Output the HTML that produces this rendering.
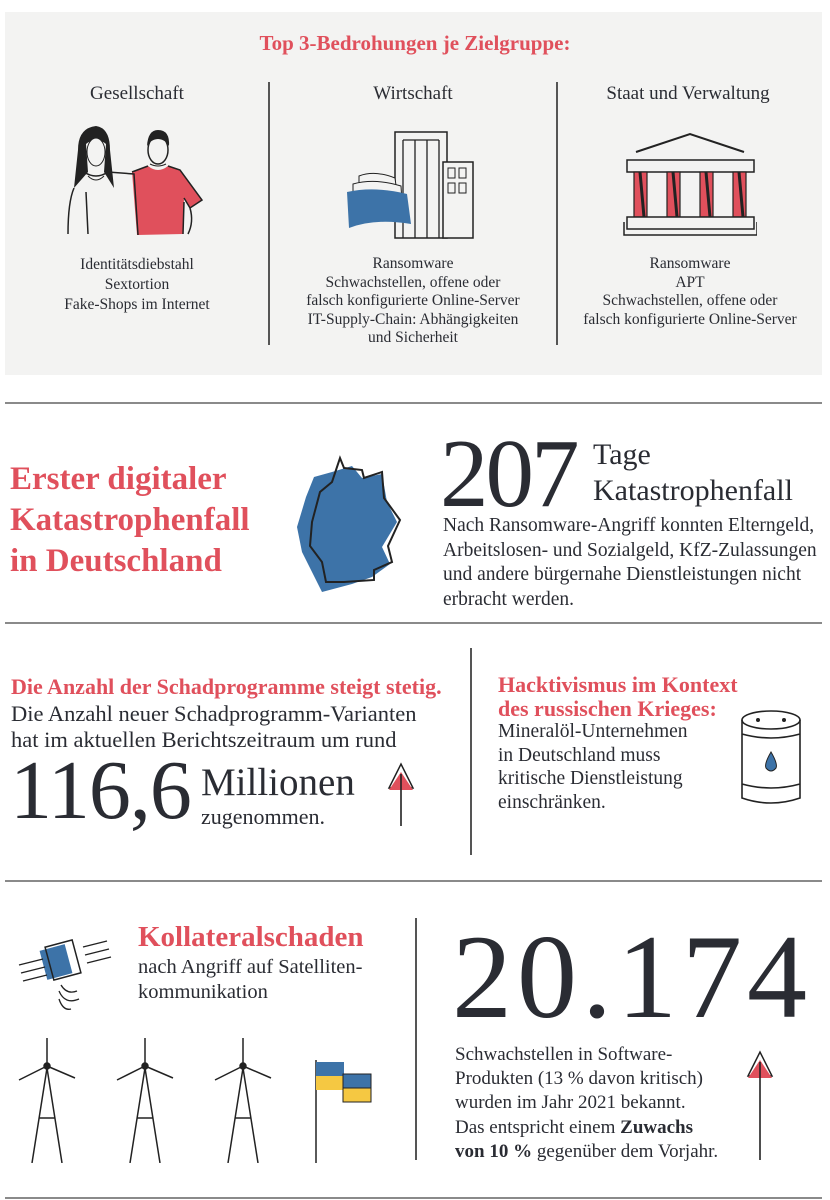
<!DOCTYPE html>
<html><head><meta charset="utf-8">
<style>
*{margin:0;padding:0;box-sizing:border-box}
body{width:830px;height:1200px;background:#fff;position:relative;overflow:hidden;font-family:"Liberation Serif",serif;color:#2a2c33}
.a{position:absolute;white-space:nowrap}
.red{color:#e0505c}
.hr{position:absolute;left:5px;width:817px;height:2px;background:#8a8a8a}
.vr{position:absolute;width:1.5px;background:#555}
.c{text-align:center}
</style></head><body>
<div style="position:absolute;left:5px;top:12px;width:817px;height:363px;background:#f3f3f2"></div>
<div class="a red c" style="left:0;width:830px;top:31px;font-size:21px;font-weight:bold">Top 3-Bedrohungen je Zielgruppe:</div>
<div class="vr" style="left:268px;top:82px;height:263px"></div>
<div class="vr" style="left:556px;top:82px;height:263px"></div>

<div class="a c" style="left:37px;width:200px;top:83px;font-size:19px">Gesellschaft</div>
<div class="a c" style="left:313px;width:200px;top:83px;font-size:19px">Wirtschaft</div>
<div class="a c" style="left:588px;width:200px;top:83px;font-size:19px">Staat und Verwaltung</div>

<svg class="a" style="left:62px;top:122px" width="150" height="115" viewBox="0 0 150 115">
<path d="M70 50 L86 44 Q96 52 106 44 L118 48 L140 78 L128 86 L122 76 L121 112 L75 113 Z" fill="#e0505c"/>
<path d="M70 50 L86 44 M106 44 L118 48 L140 78 L128 86 L122 76 M121 112 L122 80 M128 86 Q132 100 126 112" fill="none" stroke="#222" stroke-width="1.5"/>
<ellipse cx="96" cy="28" rx="10" ry="14" fill="#f3f3f2" stroke="#222" stroke-width="1.5"/>
<path d="M85 24 Q86 8 96 8 Q108 8 107 24 L104 20 Q96 14 88 20 Z" fill="#222"/>
<path d="M88 42 Q96 46 104 42" stroke="#222" fill="none"/>
<path d="M34 4 Q16 6 16 28 L12 66 L26 50 L24 22 Q34 14 44 22 L42 50 L52 66 L48 28 Q48 6 34 4 Z" fill="#222"/>
<ellipse cx="34" cy="30" rx="9" ry="14" fill="#f3f3f2" stroke="#222"/>
<path d="M22 50 Q34 58 46 50 L72 52 L76 113 M12 66 Q6 80 6 112 M26 112 L24 70" fill="none" stroke="#222" stroke-width="1.5"/>
<path d="M26 54 Q34 62 42 54" stroke="#222" fill="none"/>
</svg>

<svg class="a" style="left:345px;top:128px" width="135" height="112" viewBox="0 0 135 112">
<rect x="50" y="4" width="52" height="106" fill="#f3f3f2" stroke="#222" stroke-width="1.5"/>
<path d="M58 12 V110 M70 12 V110 M82 12 V110 M94 12 V110 M58 12 H94" stroke="#222" stroke-width="1.3" fill="none"/>
<rect x="98" y="34" width="30" height="76" fill="#f3f3f2" stroke="#222" stroke-width="1.5"/>
<rect x="103" y="40" width="7" height="10" fill="none" stroke="#222"/><rect x="114" y="40" width="7" height="10" fill="none" stroke="#222"/>
<rect x="103" y="55" width="7" height="10" fill="none" stroke="#222"/><rect x="114" y="55" width="7" height="10" fill="none" stroke="#222"/>
<path d="M14 48 Q30 42 50 50 L54 80 Q30 76 14 82 Z" fill="#f3f3f2" stroke="#222"/>
<path d="M8 56 Q30 50 56 58 L58 90 Q30 84 8 92 Z" fill="#f3f3f2" stroke="#222"/>
<path d="M2 64 Q30 58 62 66 L66 96 Q30 90 4 100 Z" fill="#3d73a8"/>
</svg>

<svg class="a" style="left:622px;top:130px" width="135" height="110" viewBox="0 0 135 110">
<path d="M14 22 L68 4 L122 22" stroke="#222" stroke-width="2" fill="none"/>
<rect x="5" y="30" width="127" height="12" fill="#f3f3f2" stroke="#222" stroke-width="1.5"/>
<g fill="#e0505c" stroke="#222" stroke-width="1.2">
<rect x="12" y="42" width="13" height="45"/><rect x="45" y="42" width="13" height="45"/><rect x="78" y="42" width="13" height="45"/><rect x="111" y="42" width="13" height="45"/></g>
<path d="M18 42 L22 87 M51 42 L55 87 M84 42 L88 87 M117 42 L121 87" stroke="#222" stroke-width="3"/>
<rect x="5" y="87" width="127" height="12" fill="#f3f3f2" stroke="#222" stroke-width="1.5"/>
<path d="M2 92 V105 H135 V92" stroke="#222" stroke-width="1.5" fill="none"/>
</svg>

<div class="a c" style="left:17px;width:240px;top:255px;font-size:15.5px;line-height:20px">Identitätsdiebstahl<br>Sextortion<br>Fake-Shops im Internet</div>
<div class="a c" style="left:263px;width:300px;top:255px;font-size:15.5px;line-height:18.5px">Ransomware<br>Schwachstellen, offene oder<br>falsch konfigurierte Online-Server<br>IT-Supply-Chain: Abhängigkeiten<br>und Sicherheit</div>
<div class="a c" style="left:540px;width:300px;top:255px;font-size:15.5px;line-height:18.5px">Ransomware<br>APT<br>Schwachstellen, offene oder<br>falsch konfigurierte Online-Server</div>

<div class="hr" style="top:402px"></div>

<div class="a red" style="left:10px;top:459px;font-size:33px;font-weight:bold;line-height:41px">Erster digitaler<br>Katastrophenfall<br>in Deutschland</div>
<svg class="a" style="left:292px;top:452px" width="115" height="142" viewBox="0 0 115 142">
<path d="M40 20 L60 14 L70 26 L90 22 L95 50 L105 70 L90 95 L98 112 L80 125 L60 132 L30 140 L20 120 L10 100 L5 75 L14 45 L22 25 Z" fill="#3d73a8"/>
<path d="M48 6 L52 16 L70 18 L72 26 L90 20 L92 46 L108 68 L96 94 L100 110 L82 118 L82 128 L52 130 L34 130 L30 110 L18 94 L20 70 L28 40 L40 30 Z" fill="none" stroke="#222" stroke-width="2"/>
</svg>
<div class="a" style="left:440px;top:420px;font-size:97px;line-height:108px;letter-spacing:-3px">207</div>
<div class="a" style="left:593px;top:437px;font-size:30px;line-height:36px">Tage<br>Katastrophenfall</div>
<div class="a" style="left:443px;top:514px;font-size:19.5px;line-height:24.5px">Nach Ransomware-Angriff konnten Elterngeld,<br>Arbeitslosen- und Sozialgeld, KfZ-Zulassungen<br>und andere bürgernahe Dienstleistungen nicht<br>erbracht werden.</div>

<div class="hr" style="top:622px"></div>
<div class="vr" style="left:470px;top:648px;height:207px"></div>

<div class="a red" style="left:11px;top:674px;font-size:22px;font-weight:bold">Die Anzahl der Schadprogramme steigt stetig.</div>
<div class="a" style="left:11px;top:701px;font-size:22.5px;line-height:26px">Die Anzahl neuer Schadprogramm-Varianten<br>hat im aktuellen Berichtszeitraum um rund</div>
<div class="a" style="left:10px;top:744px;font-size:84px;line-height:94px;letter-spacing:-1px">116,6</div>
<div class="a" style="left:201px;top:760px;font-size:39px">Millionen</div>
<div class="a" style="left:201px;top:804px;font-size:22px">zugenommen.</div>
<svg class="a" style="left:385px;top:760px" width="32" height="66" viewBox="0 0 32 66">
<path d="M4 28 L16 4 L28 28 Z" fill="none" stroke="#222" stroke-width="1.5"/><path d="M4 30 L16 12 L28 30 Z" fill="#e0505c"/>
<path d="M16 14 V66" stroke="#222" stroke-width="1.6"/></svg>

<div class="a red" style="left:498px;top:673px;font-size:22px;font-weight:bold;line-height:24px">Hacktivismus im Kontext<br>des russischen Krieges:</div>
<div class="a" style="left:498px;top:720px;font-size:19.5px;line-height:23.5px">Mineralöl-Unternehmen<br>in Deutschland muss<br>kritische Dienstleistung<br>einschränken.</div>
<svg class="a" style="left:738px;top:708px" width="66" height="100" viewBox="0 0 66 100">
<ellipse cx="33" cy="12" rx="29" ry="9" fill="none" stroke="#222" stroke-width="1.6"/>
<circle cx="20" cy="12" r="2" fill="#222"/><circle cx="46" cy="12" r="2" fill="#222"/>
<path d="M4 12 V90 Q33 100 62 90 V12 M4 26 Q33 34 62 26 M4 76 Q33 84 62 76" fill="none" stroke="#222" stroke-width="1.6"/>
<path d="M33 44 Q26 56 28 60 Q33 66 38 60 Q40 56 33 44 Z" fill="#3d73a8" stroke="#222"/></svg>

<div class="hr" style="top:880px"></div>
<div class="vr" style="left:415px;top:918px;height:242px"></div>

<svg class="a" style="left:15px;top:935px" width="100" height="80" viewBox="0 0 100 80">
<rect x="28" y="12" width="26" height="30" fill="#3d73a8" transform="rotate(-15 41 27)"/>
<rect x="34" y="8" width="28" height="34" fill="none" stroke="#222" stroke-width="1.5" transform="rotate(-15 48 25)"/>
<path d="M68 12 L92 6 M70 20 L94 14 M72 28 L96 22 M4 30 L28 24 M6 38 L30 32 M8 46 L32 40" stroke="#222" stroke-width="1.4"/>
<path d="M46 50 Q52 60 62 56 M44 56 Q50 70 64 64 M44 64 Q48 76 56 74" stroke="#222" fill="none" stroke-width="1.3"/></svg>
<div class="a red" style="left:138px;top:921px;font-size:29px;font-weight:bold">Kollateralschaden</div>
<div class="a" style="left:138px;top:955px;font-size:20.5px;line-height:25px">nach Angriff auf Satelliten-<br>kommunikation</div>

<svg class="a" style="left:15px;top:1038px" width="360" height="125" viewBox="0 0 360 125">
<g stroke="#222" stroke-width="1.5" fill="none">
<g transform="translate(32 0)"><path d="M0 0 V28 M0 28 L-28 42 M0 28 L28 40 M-15 125 L0 30 L15 125 M-8 80 H8"/><circle cx="0" cy="28" r="3" fill="#222"/></g>
<g transform="translate(130 0)"><path d="M0 0 V28 M0 28 L-28 42 M0 28 L28 40 M-15 125 L0 30 L15 125 M-8 80 H8"/><circle cx="0" cy="28" r="3" fill="#222"/></g>
<g transform="translate(228 0)"><path d="M0 0 V28 M0 28 L-28 42 M0 28 L28 40 M-15 125 L0 30 L15 125 M-8 80 H8"/><circle cx="0" cy="28" r="3" fill="#222"/></g>
<path d="M301 22 V125"/></g>
<rect x="301" y="24" width="28" height="14" fill="#3d73a8"/><rect x="301" y="38" width="28" height="14" fill="#f5c842"/>
<rect x="328" y="36" width="28" height="14" fill="#3d73a8" stroke="#222"/><rect x="328" y="50" width="28" height="14" fill="#f5c842" stroke="#222"/>
</svg>

<div class="a" style="left:452px;top:912px;font-size:120px;line-height:130px;letter-spacing:5px">20.174</div>
<div class="a" style="left:455px;top:1043px;font-size:19px;line-height:24.2px">Schwachstellen in Software-<br>Produkten (13 % davon kritisch)<br>wurden im Jahr 2021 bekannt.<br>Das entspricht einem <b>Zuwachs</b><br><b>von 10 %</b> gegenüber dem Vorjahr.</div>
<svg class="a" style="left:744px;top:1048px" width="32" height="112" viewBox="0 0 32 112">
<path d="M4 28 L16 4 L28 28 Z" fill="none" stroke="#222" stroke-width="1.5"/><path d="M4 30 L16 12 L28 30 Z" fill="#e0505c"/>
<path d="M16 14 V112" stroke="#222" stroke-width="1.6"/></svg>

<div class="hr" style="top:1197px"></div>
</body></html>
